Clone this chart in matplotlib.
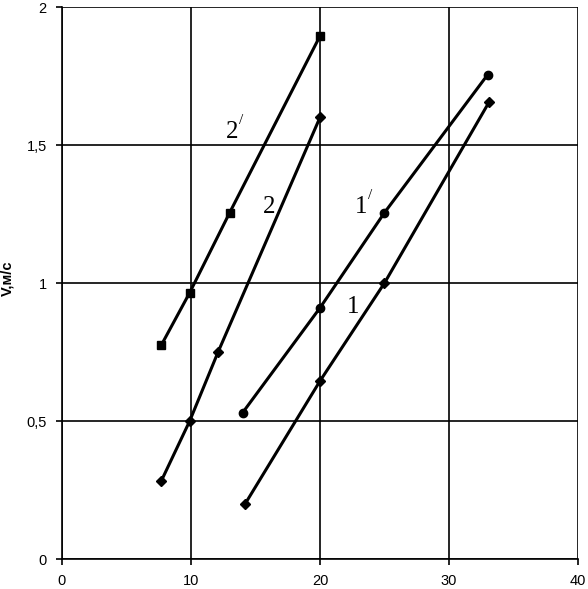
import matplotlib
matplotlib.use("Agg")
import matplotlib.pyplot as plt

# кривые 1, 1', 2, 2'
x_1 = [14.2, 20.0, 25.0, 33.1]
v_1 = [0.20, 0.645, 1.0, 1.655]

x_1s = [14.0, 20.0, 25.0, 33.0]
v_1s = [0.53, 0.91, 1.255, 1.755]

x_2 = [7.7, 9.9, 12.1, 20.0]
v_2 = [0.283, 0.50, 0.75, 1.60]

x_2s = [7.7, 9.9, 13.0, 20.0]
v_2s = [0.775, 0.965, 1.255, 1.895]

x_ticks = [0, 10, 20, 30, 40]
y_ticks = [0, 0.5, 1, 1.5, 2]
y_labels = ["0", "0,5", "1", "1,5", "2"]

fig = plt.figure(figsize=(5.88, 5.89), dpi=100)
ax = fig.add_axes([0.1054, 0.0509, 0.8776, 0.9372])

ax.plot(x_1, v_1, color="black", lw=2.2, marker="D", ms=5)
ax.plot(x_1s, v_1s, color="black", lw=2.2, marker="o", ms=6)
ax.plot(x_2, v_2, color="black", lw=2.2, marker="D", ms=5)
ax.plot(x_2s, v_2s, color="black", lw=2.2, marker="s", ms=6)

serif = dict(family="Liberation Serif", fontsize=18)
ax.text(12.7, 1.525, "2", **serif)
ax.text(13.7, 1.575, "/", family="Liberation Serif", fontsize=11)
ax.text(15.6, 1.255, "2", **serif)
ax.text(22.7, 1.255, "1", **serif)
ax.text(23.7, 1.305, "/", family="Liberation Serif", fontsize=11)
ax.text(22.1, 0.89, "1", **serif)

ax.set_xlim(0, 40)
ax.set_ylim(0, 2)
ax.set_xticks(x_ticks)
ax.set_xticklabels([str(t) for t in x_ticks], family="Liberation Sans", fontsize=10.5)
ax.set_yticks(y_ticks)
ax.set_yticklabels(y_labels, family="Liberation Sans", fontsize=10.5)
ax.grid(True, color="black", lw=1.2)
ax.tick_params(direction="out", length=4, width=1.2, pad=7)
for s in ["top", "right"]:
    ax.spines[s].set_visible(False)
for s in ["left", "bottom"]:
    ax.spines[s].set_linewidth(1.2)

ax.set_ylabel("V,м/с", family="Liberation Sans", fontweight="bold", fontsize=10.5)
ax.yaxis.set_label_coords(-0.092, 0.509)

fig.savefig("out.png", dpi=100)
